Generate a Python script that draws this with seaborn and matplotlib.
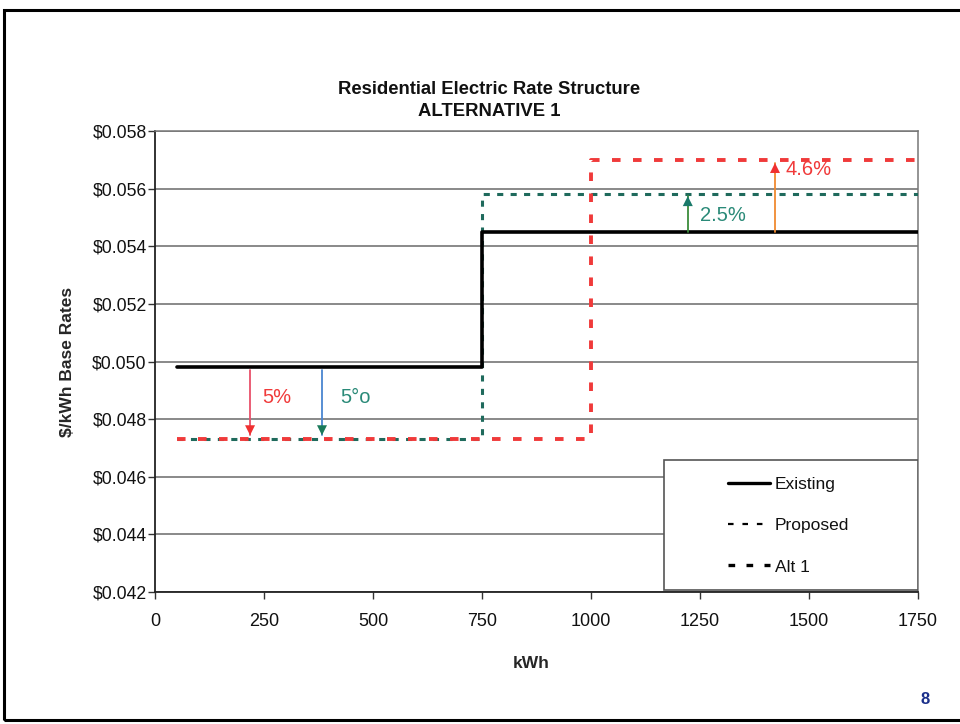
import matplotlib
matplotlib.use("Agg")
import matplotlib.pyplot as plt
import seaborn as sns
import pandas as pd
from matplotlib.lines import Line2D
from matplotlib.patches import Rectangle

# ---- data ----
existing_x = [50, 750, 1750]
existing_y = [0.0498, 0.0545, 0.0545]
proposed_x = [50, 750, 1750]
proposed_y = [0.0473, 0.0558, 0.0558]
alt1_x = [50, 1000, 1750]
alt1_y = [0.0473, 0.0570, 0.0570]

x_ticks = [0, 250, 500, 750, 1000, 1250, 1500, 1750]
y_ticks = [0.042, 0.044, 0.046, 0.048, 0.050, 0.052, 0.054, 0.056, 0.058]
y_tick_labels = ["$0.042", "$0.044", "$0.046", "$0.048", "$0.050",
                 "$0.052", "$0.054", "$0.056", "$0.058"]

# annotation arrows: x, y_start, y_end, label, label_x, label_y
arrow_x = [218, 383, 1222, 1422]
arrow_y0 = [0.0497, 0.0497, 0.0545, 0.0545]
arrow_y1 = [0.04744, 0.04744, 0.05574, 0.05689]
arrow_labels = ["5%", "5°o", "2.5%", "4.6%"]
label_x = [245, 424, 1250, 1445]
label_y = [0.04876, 0.04876, 0.05508, 0.05665]
shaft_colors = ["#e8506a", "#4a86d0", "#3c8c3c", "#f08a30"]
head_colors = ["#f03030", "#1a7a5a", "#1a7a6a", "#f03030"]
label_colors = ["#f03a3a", "#2a8a78", "#2a8a78", "#f03a3a"]

sns.set_theme(style="white")
plt.rcParams["font.family"] = ["Liberation Sans", "DejaVu Sans"]
plt.rcParams["text.color"] = "#111111"

fig = plt.figure(figsize=(9.6, 7.24), dpi=100)
L, R, T, B = 155, 918, 131, 592
ax = fig.add_axes([L/960, 1-B/724, (R-L)/960, (B-T)/724])

df_e = pd.DataFrame({"kWh": existing_x, "rate": existing_y})
df_p = pd.DataFrame({"kWh": proposed_x, "rate": proposed_y})
df_a = pd.DataFrame({"kWh": alt1_x, "rate": alt1_y})

sns.lineplot(data=df_a, x="kWh", y="rate", ax=ax, color="#f03a3a", lw=2.8,
             drawstyle="steps-post", linestyle=(0, (2.2, 3.2)), zorder=4)
sns.lineplot(data=df_p, x="kWh", y="rate", ax=ax, color="#1f6a5c", lw=2.2,
             drawstyle="steps-post", linestyle=(0, (2.0, 2.4)), zorder=3)
sns.lineplot(data=df_e, x="kWh", y="rate", ax=ax, color="black", lw=2.6,
             drawstyle="steps-post", zorder=5)

ax.set_xlim(0, 1750)
ax.set_ylim(0.042, 0.058)
ax.set_xticks(x_ticks)
ax.set_xticklabels([str(t) for t in x_ticks], fontsize=13, color="#111111")
ax.set_yticks(y_ticks)
ax.set_yticklabels(y_tick_labels, fontsize=12.7, color="#111111")
ax.tick_params(axis="both", direction="out", length=5, width=1, color="#333333",
               left=True, bottom=True)
ax.tick_params(axis="x", pad=10)
ax.tick_params(axis="y", pad=1)
ax.yaxis.grid(True, color="#6a6a6a", lw=1.1)
ax.xaxis.grid(False)
for s in ["left", "bottom"]:
    ax.spines[s].set_color("#222222")
    ax.spines[s].set_linewidth(1.3)
for s in ["top", "right"]:
    ax.spines[s].set_color("#777777")
    ax.spines[s].set_linewidth(1.1)

ax.set_xlabel("kWh", fontsize=12.5, fontweight="bold", labelpad=18)
ax.xaxis.set_label_coords((531-L)/(R-L), -(656-B)/(B-T))
ax.set_ylabel("$/kWh Base Rates", fontsize=12.5, fontweight="bold", labelpad=12)
ax.set_title("Residential Electric Rate Structure\nALTERNATIVE 1",
             fontsize=13.3, fontweight="bold", pad=11, linespacing=1.35,
             x=(489-L)/(R-L))

for i in range(len(arrow_x)):
    ax.plot([arrow_x[i], arrow_x[i]], [arrow_y0[i], arrow_y1[i]],
            color=shaft_colors[i], lw=1.3, zorder=6)
    ax.annotate("", xy=(arrow_x[i], arrow_y1[i]), xytext=(arrow_x[i], arrow_y0[i]),
                arrowprops=dict(arrowstyle="-|>,head_length=0.6,head_width=0.3",
                                color=head_colors[i], lw=0, shrinkA=0, shrinkB=0),
                zorder=7)
    ax.text(label_x[i], label_y[i], arrow_labels[i], color=label_colors[i],
            fontsize=14.5, va="center", ha="left", zorder=7)

# legend frame (box as in the reference)
ax.add_patch(Rectangle(((664-L)/(R-L), (B-590)/(B-T)), (918-664)/(R-L),
                       (590-460)/(B-T), transform=ax.transAxes,
                       facecolor="white", edgecolor="#555555", lw=1.2, zorder=9))
handles = [Line2D([], [], color="black", lw=2.4),
           Line2D([], [], color="black", lw=1.6, linestyle=(0, (2.5, 4))),
           Line2D([], [], color="black", lw=2.4, linestyle=(0, (2.0, 3.4)))]
leg = ax.legend(handles, ["Existing", "Proposed", "Alt 1"],
                loc="upper left", bbox_to_anchor=((728-L)/(R-L), (B-477)/(B-T)),
                fontsize=12.5, frameon=False, handlelength=2.4,
                handletextpad=0.3, labelspacing=1.5, borderpad=0.0,
                borderaxespad=0.0)
leg.set_zorder(10)

# slide border
fig.add_artist(Rectangle((4/960, 4/724), 1.2, 1-14/724, transform=fig.transFigure,
                         fill=False, edgecolor="black", lw=2.2))
fig.text(925/960, 1-700/724, "8", color="#1a2f8a", fontsize=12,
         fontweight="bold", ha="center", va="center")

fig.savefig("out.png", dpi=100)
